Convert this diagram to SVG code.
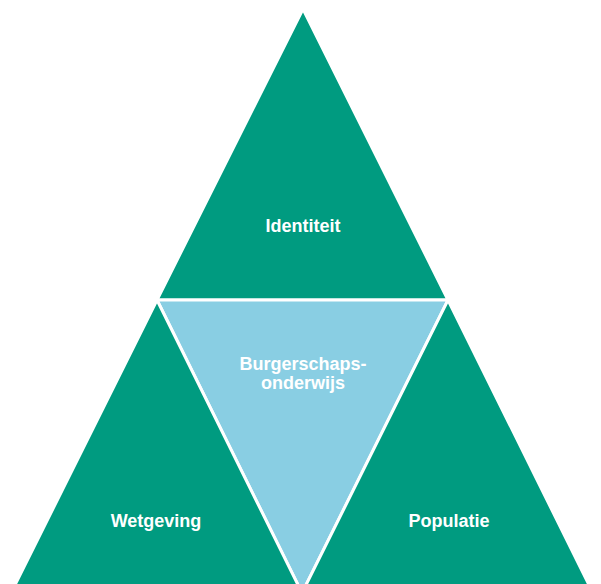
<svg xmlns="http://www.w3.org/2000/svg" width="601" height="584" viewBox="0 0 601 584">
<style>
.g{fill:#009B80;stroke:#fff;stroke-width:3;stroke-linejoin:miter}
.b{fill:#89CEE3;stroke:#fff;stroke-width:3}
text{font-family:"Liberation Sans",Arial,sans-serif;font-weight:bold;font-size:18px;fill:#fff;text-anchor:middle}
</style>
<rect width="601" height="584" fill="#fff"/>
<g id="identiteit">
<polygon class="g" points="303,9 157,300 448,300"/>
<text x="303" y="232">Identiteit</text>
</g>
<g id="burgerschapsonderwijs">
<polygon class="b" points="157,300 448,300 302,593"/>
<text x="303" y="370">Burgerschaps-</text>
<text x="303" y="389">onderwijs</text>
</g>
<g id="wetgeving">
<polygon class="g" points="157,300 302,593 11,593"/>
<text x="156" y="527">Wetgeving</text>
</g>
<g id="populatie">
<polygon class="g" points="448,300 593,593 302,593"/>
<text x="449" y="527">Populatie</text>
</g>
</svg>
